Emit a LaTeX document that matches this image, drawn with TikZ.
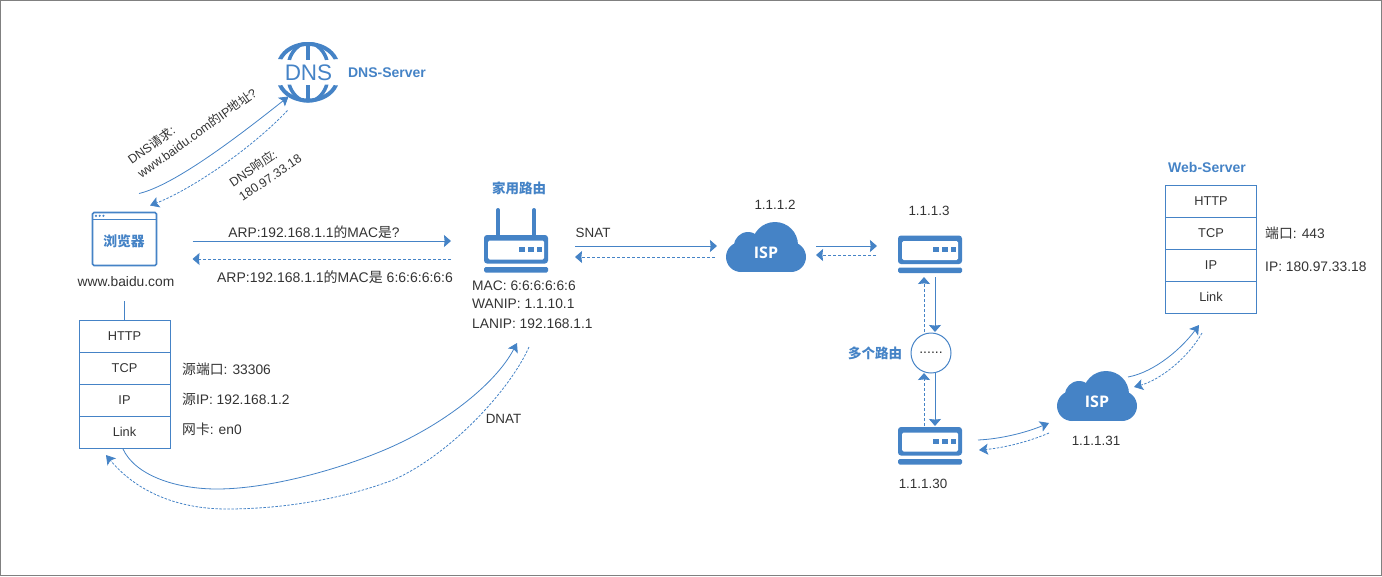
\documentclass[tikz,border=0pt]{standalone}
\usepackage{fontspec}
\usetikzlibrary{arrows.meta}
\setmainfont{Liberation Sans}
\newfontfamily\cjkfam{Noto Sans CJK SC}
\newfontfamily\ispfam{Open Sans}
\newcommand{\zht}[1]{{\cjkfam #1}}
\definecolor{nblue}{HTML}{4583C6}
\definecolor{ntext}{HTML}{333333}
\tikzset{
  x=1pt,y=-1pt,
  lbl/.style={inner sep=0pt,text height=10pt,text depth=0pt,text=ntext,font=\fontsize{13.8}{16}\selectfont},
  lblw/.style={lbl,anchor=west},
  lbls/.style={lbl,font=\fontsize{13.4}{16}\selectfont},
  title/.style={inner sep=0pt,text height=10pt,text depth=0pt,text=nblue,font=\fontsize{14}{16}\selectfont\bfseries},
  slanted/.style={inner sep=0pt,align=left,text=ntext,font=\fontsize{12.4}{17}\selectfont},
  row/.style={draw=nblue,line width=.9pt,minimum width=91pt,minimum height=32pt,inner sep=0pt,outer sep=0pt,
    text height=9.5pt,text depth=0pt,text=ntext,font=\fontsize{12.8}{16}\selectfont},
  iconbox/.style={inner sep=0pt,outer sep=0pt,minimum width=#1},
  sol/.style={draw=nblue,line width=1pt,-{Stealth[length=7pt,width=12pt,inset=.6pt]}},
  dsh/.style={sol,dash pattern=on 3pt off 2pt},
  solc/.style={draw=nblue,line width=.8pt,-{Stealth[length=9pt,width=11pt,inset=2pt]}},
  dshc/.style={solc,dash pattern=on 2.5pt off 1.5pt},
  routericon/.pic={
    \fill[nblue,rounded corners=3pt] (0,0) rectangle (64,28.5);
    \fill[white,rounded corners=1.5pt] (4,5.5) rectangle (60,24.5);
    \fill[nblue,rounded corners=1.5pt] (0,32) -- (64,32) -- (64,37.5) -- (0,37.5) -- cycle;
    \fill[nblue] (35,11.5) rectangle (41,16.5);
    \fill[nblue] (44,11.5) rectangle (49.5,16.5);
    \fill[nblue] (52.5,11.5) rectangle (58,16.5);
  },
  cloudicon/.pic={
    \fill[nblue] (15,35) circle[radius=15];
    \fill[nblue] (22,24) circle[radius=14];
    \fill[nblue] (49,23) circle[radius=23];
    \fill[nblue] (65,35) circle[radius=15];
    \fill[nblue] (15,28) rectangle (65,50);
    \node[inner sep=0pt,text=white,font=\fontsize{16}{18}\ispfam\bfseries] at (40,31) {ISP};
  },
  globecap/.pic={
    \begin{scope}
      \clip (278,59) .. controls (283,48) and (295,42) .. (308,42) .. controls (321,42) and (333,48) .. (338,59) -- (326,60) -- (290,60) -- cycle;
      \draw[nblue,line width=8pt] (278,59) .. controls (283,48) and (295,42) .. (308,42) .. controls (321,42) and (333,48) .. (338,59);
      \draw[nblue,line width=3.5pt] (308,42) -- (308,60);
      \draw[nblue,line width=3.5pt] (308,42) .. controls (298,44) and (291,52) .. (289,61);
      \draw[nblue,line width=3.5pt] (308,42) .. controls (318,44) and (325,52) .. (327,61);
    \end{scope}
  },
}
\begin{document}
\begin{tikzpicture}
\useasboundingbox (0,0) rectangle (1382,576);
\draw[draw=gray,line width=1pt] (0.5,0.5) rectangle (1381.5,575.5);

% DNS server
\pic at (0,0) {globecap};
\begin{scope}[shift={(0,144.5)},yscale=-1]
  \pic[transform shape] at (0,0) {globecap};
\end{scope}
\node[iconbox=60pt,minimum height=60pt,text=nblue,font=\fontsize{22.5}{24}\selectfont] (dns) at (308.5,72.5) {DNS};
\node[title] (dnsname) at (387,72) {DNS-Server};

% browser
\node[draw=nblue,line width=1.6pt,rounded corners=1.5pt,minimum width=64pt,minimum height=53pt,inner sep=0pt,outer sep=0pt] (win) at (124.5,239) {};
\draw[nblue,line width=1pt] (win.north west) ++(0,7) -- ++(64,0);
\fill[nblue] (96,215.8) circle[radius=1.2];
\fill[nblue] (99.7,215.8) circle[radius=1.2];
\fill[nblue] (103.4,215.8) circle[radius=1.2];
\node[inner sep=0pt,text=nblue,font=\fontsize{13.8}{16}\cjkfam\bfseries] (winname) at (124,241) {浏览器};
\node[lbl] (www) at (126,281) {www.baidu.com};

% left stack
\node[row] (http) at (124.5,336) {HTTP};
\node[row] (tcp) at (124.5,368) {TCP};
\node[row] (ip) at (124.5,400) {IP};
\node[row] (link) at (124.5,432) {Link};
\draw[nblue,line width=.9pt] (http.north) -- ++(0,-19);
\node[lblw] (l1) at (182,369) {\zht{源端口}: 33306};
\node[lblw] (l2) at (182,399) {\zht{源}IP: 192.168.1.2};
\node[lblw] (l3) at (182,429) {\zht{网卡}: en0};

% home router
\node[title,font=\fontsize{13.5}{16}\cjkfam\bfseries] (homename) at (519,188) {家用路由};
\draw[nblue,line width=4pt,line cap=round] (498,210) -- (498,236);
\draw[nblue,line width=4pt,line cap=round] (534,210) -- (534,236);
\pic at (484,235) {routericon};
\node[iconbox=64pt,minimum height=65pt] (r1) at (516,240.5) {};
\node[lblw] (r1a) at (472,285) {MAC: 6:6:6:6:6:6};
\node[lblw] (r1b) at (472,303) {WANIP: 1.1.10.1};
\node[lblw] (r1c) at (472,323) {LANIP: 192.168.1.1};

% ISP 1
\pic at (726,222) {cloudicon};
\node[iconbox=80pt,minimum height=50pt] (c1) at (766,247) {};
\node[lbls] (c1ip) at (775,204) {1.1.1.2};

% router 2
\pic at (898,235.5) {routericon};
\node[iconbox=64pt,minimum height=37pt] (r2) at (930,254.5) {};
\node[lbls] (r2ip) at (929,210) {1.1.1.3};

% many routers
\node[draw=nblue,line width=1pt,circle,minimum size=40pt,inner sep=0pt,outer sep=0pt,text=ntext,font=\fontsize{14}{16}\selectfont] (many) at (931,353) {......};
\node[title,font=\fontsize{13.5}{16}\cjkfam\bfseries] (manyname) at (875,353) {多个路由};

% router 3
\pic at (898,427) {routericon};
\node[iconbox=64pt,minimum height=38pt] (r3) at (930,446) {};
\node[lbls] (r3ip) at (923,483) {1.1.1.30};

% ISP 2
\pic at (1057,371) {cloudicon};
\node[iconbox=80pt,minimum height=50pt] (c2) at (1097,396) {};
\node[lbls] (c2ip) at (1096,440) {1.1.1.31};

% web server
\node[title] (webname) at (1207,167) {Web-Server};
\node[row] (whttp) at (1211,201) {HTTP};
\node[row] (wtcp) at (1211,233) {TCP};
\node[row] (wip) at (1211,265) {IP};
\node[row] (wlink) at (1211,297) {Link};
\node[lblw] (w1) at (1265,233) {\zht{端口}: 443};
\node[lblw] (w2) at (1265,266) {IP: 180.97.33.18};

% labels
\node[slanted,rotate=35.5] (q) at (192,126) {DNS\zht{请求}:\\www.baidu.com\zht{的}IP\zht{地址}?};
\node[slanted,rotate=34] (a) at (265,170) {DNS\zht{响应}:\\180.97.33.18};
\node[lbl] (arpq) at (314,232) {ARP:192.168.1.1\zht{的}MAC\zht{是}?};
\node[lbl,font=\fontsize{14}{16}\selectfont] (arpa) at (335,277) {ARP:192.168.1.1\zht{的}MAC\zht{是} 6:6:6:6:6:6};
\node[lbls,anchor=west] (snat) at (575.5,232) {SNAT};
\node[lbls] (dnat) at (503.5,418) {DNAT};

% connectors
\draw[solc] ([shift={(14.5,-19)}]win.north) .. controls (175,185) and (240,135) .. ([shift={(-20,-6)}]dns.south);
\draw[dshc] ([shift={(-21,8)}]dns.south) .. controls (250,150) and (190,190) .. ([shift={(25.5,-7)}]win.north);
\draw[sol] ([shift={(36,2)}]win.east) -- ([shift={(-33,.5)}]r1.west);
\draw[dsh] ([shift={(-33,18.5)}]r1.west) -- ([shift={(36,20)}]win.east);
\draw[sol] ([shift={(27,5.5)}]r1.east) -- ([shift={(-9,-1)}]c1.west);
\draw[dsh] ([shift={(-11,10)}]c1.west) -- ([shift={(27,16.5)}]r1.east);
\draw[sol] ([shift={(10,-1)}]c1.east) -- ([shift={(-21,-8.5)}]r2.west);
\draw[dsh] ([shift={(-22,.5)}]r2.west) -- ([shift={(10,8)}]c1.east);
\draw[sol] ([shift={(5,4)}]r2.south) -- ([shift={(4,-1)}]many.north);
\draw[dsh] ([shift={(-7,-1)}]many.north) -- ([shift={(-6,4)}]r2.south);
\draw[sol] ([shift={(4,0)}]many.south) -- ([shift={(5,-1)}]r3.north);
\draw[dsh] ([shift={(-6,-1)}]r3.north) -- ([shift={(-7,0)}]many.south);
\draw[solc] ([shift={(16,-6)}]r3.east) .. controls (1000,439) and (1025,433) .. ([shift={(-8,27)}]c2.west);
\draw[dshc] ([shift={(-8,37)}]c2.west) .. controls (1028,442) and (1003,448) .. ([shift={(17,4)}]r3.east);
\draw[solc] ([shift={(-9,-19)}]c2.east) .. controls (1155,372) and (1182,348) .. ([shift={(-12,12)}]wlink.south);
\draw[dshc] ([shift={(-9,20)}]wlink.south) .. controls (1188,358) and (1160,380) .. ([shift={(-3,-9)}]c2.east);
\draw[solc] ([shift={(-1.5,1)}]link.south) .. controls (135,475) and (175,489) .. (217,489)
  .. controls (265,489) and (330,472) .. (377,453)
  .. controls (440,428) and (495,385) .. ([shift={(1,70)}]r1.south);
\draw[dshc] ([shift={(13,74)}]r1.south) .. controls (510,390) and (450,455) .. (393,480)
  .. controls (340,500) and (280,509) .. (227,509)
  .. controls (175,509) and (135,490) .. ([shift={(-18.5,7)}]link.south);
\end{tikzpicture}
\end{document}
